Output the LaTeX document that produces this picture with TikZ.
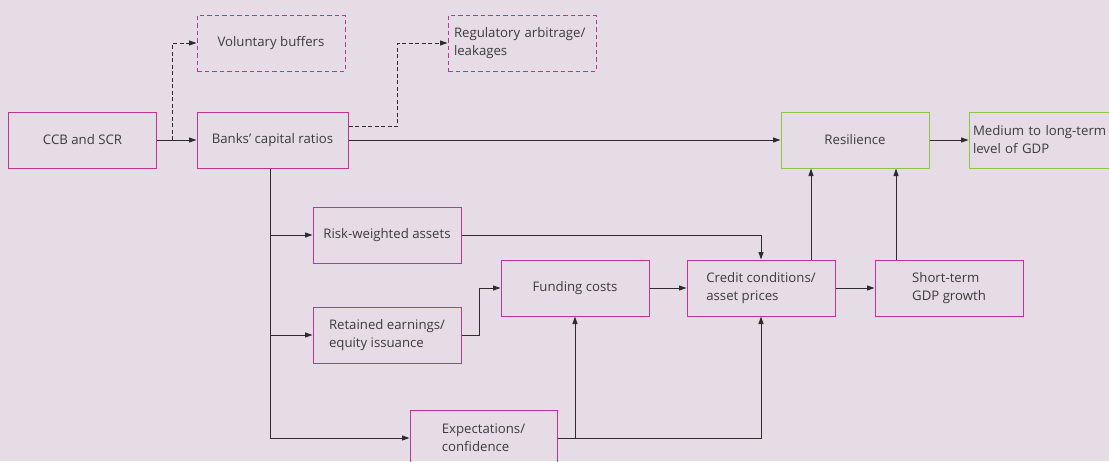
\documentclass[tikz,border=0pt]{standalone}
\usepackage{fontspec}
\setmainfont{Open Sans}
\usetikzlibrary{arrows.meta,calc}
\definecolor{bg}{RGB}{229,220,230}
\definecolor{mag}{RGB}{196,50,150}
\definecolor{grn}{RGB}{140,198,70}
\definecolor{txt}{RGB}{60,60,60}
\definecolor{ln}{RGB}{45,45,45}
\tikzset{
  box/.style={draw=mag, line width=1pt, minimum width=148pt, minimum height=56pt, inner sep=0pt,
    align=left, text=txt, font=\fontsize{13.2}{18}\selectfont},
  gbox/.style={box, draw=grn},
  dbox/.style={box, dash pattern=on 4.5pt off 3pt},
  arr/.style={draw=ln, line width=0.9pt, -{Triangle[length=7.5pt,width=5pt]}},
  darr/.style={arr, dash pattern=on 4pt off 2.5pt},
}
\begin{document}
\begin{tikzpicture}[x=1pt,y=-1pt]
\fill[bg] (0,0) rectangle (1109,461);
\useasboundingbox (0,0) rectangle (1109,461);
\clip (0,0) rectangle (1109,461);
\node[box] (ccb) at (82.5,140) {CCB and SCR};
\node[box, minimum width=151pt] (banks) at (272.5,140) {Banks’ capital ratios};
\node[dbox] (vol) at (271,43) {Voluntary buffers};
\node[dbox, text width=136pt] (reg) at (522,43) {Regulatory arbitrage/\\leakages};
\node[gbox] (res) at (855,140) {Resilience};
\node[gbox, text width=140pt] (med) at (1043,140) {Medium to long-term\\level of GDP};
\node[box] (rwa) at (387,235) {Risk-weighted assets};
\node[box] (ret) at (387,335) {Retained earnings/\\equity issuance};
\node[box] (fund) at (575,288) {Funding costs};
\node[box] (cred) at (761,288) {Credit conditions/\\asset prices};
\node[box] (st) at (949,288) {Short-term\\GDP growth};
\node[box, minimum width=147pt] (exp) at (483.5,438) {Expectations/\\confidence};

\coordinate (d1) at ($(ccb.east)!0.4!(banks.west)$);
\draw[arr] (ccb.east) -- (banks.west);
\draw[darr] (d1) |- (vol.west);
\coordinate (d2) at ([yshift=14pt]banks.east);
\draw[darr] (d2) -- ++(49,0) |- (reg.west);
\draw[arr] (banks.east) -- (res.west);
\draw[arr] (res.east) -- (med.west);
\coordinate (t) at ([xshift=-2.5pt]banks.south);
\draw[arr] (t) |- (exp.west);
\draw[arr] (t |- rwa.west) -- (rwa.west);
\draw[arr] (t |- ret.west) -- (ret.west);
\draw[arr] (rwa.east) -| (cred.north);
\draw[arr] (ret.east) -- ++(18,0) |- (fund.west);
\draw[arr] (fund.east) -- (cred.west);
\draw[arr] (cred.east) -- (st.west);
\coordinate (c1) at ([xshift=50pt]cred.north);
\draw[arr] (c1) -- (c1 |- res.south);
\coordinate (s1) at ([xshift=-53pt]st.north);
\draw[arr] (s1) -- (s1 |- res.south);
\draw[arr] (exp.east) -| (fund.south);
\draw[arr] (exp.east) -| (cred.south);
\end{tikzpicture}
\end{document}
